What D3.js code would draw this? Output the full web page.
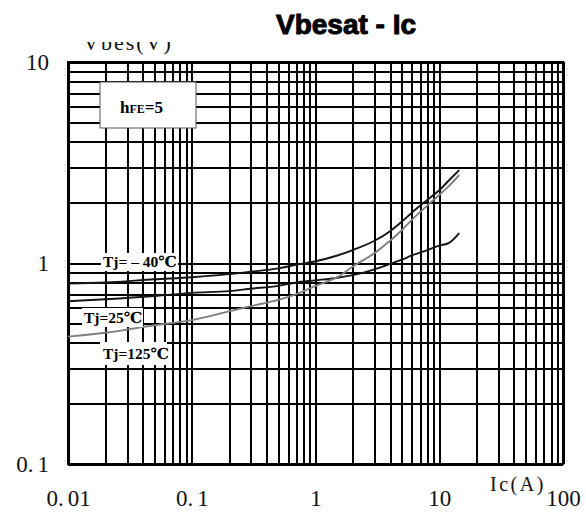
<!DOCTYPE html>
<html><head><meta charset="utf-8">
<script src="https://cdn.jsdelivr.net/npm/d3@7"></script>
<style>body{margin:0;background:#fff}</style>
</head><body>
<svg id="c" width="586" height="513"></svg>
<script>
// ---- data ----
const currents = [0.01,0.02,0.05,0.1,0.2,0.3,0.5,0.7,1,1.5,2,3,4,5,6,8,10,12,14.5];
const vTjM40  = [0.79,0.80,0.83,0.85,0.88,0.905,0.94,0.98,1.02,1.09,1.16,1.29,1.44,1.61,1.78,2.06,2.30,2.58,2.90];
const vTj25   = [0.645,0.66,0.685,0.71,0.725,0.745,0.77,0.80,0.82,0.845,0.87,0.93,0.99,1.04,1.09,1.16,1.22,1.26,1.41];
const vTj125  = [0.43,0.45,0.49,0.52,0.575,0.61,0.655,0.70,0.77,0.85,0.96,1.12,1.29,1.46,1.64,1.93,2.18,2.42,2.74];
const seriesNames = ["Tj= \u2013 40\u2103","Tj=25\u2103","Tj=125\u2103"];
const xTickValues = [0.01,0.1,1,10,100];
const xTickLabels = ["0.01","0.1","1","10","100"];
const yTickValues = [0.1,1,10];
const yTickLabels = ["0.1","1","10"];
const title = "Vbesat - Ic";
const yTitle = "Vbes(V)";
const xTitle = "Ic(A)";

// ---- layout ----
const L=68, R=563, T=62, B=464;
const svg = d3.select("#c");
const x = d3.scaleLog().domain([0.01,100]).range([L,R]);
const y = d3.scaleLog().domain([0.1,10]).range([B,T]);

const xGrid=[]; [0.01,0.1,1,10].forEach(d=>{for(let k=1;k<10;k++) xGrid.push(+(d*k).toPrecision(3));}); xGrid.push(100);
const yGrid=[]; [0.1,1].forEach(d=>{for(let k=1;k<10;k++) yGrid.push(+(d*k).toPrecision(3));}); yGrid.push(10);

const gx = svg.append("g").attr("transform",`translate(0,${B})`)
  .call(d3.axisBottom(x).tickValues(xGrid).tickSize(-(B-T)).tickFormat(""));
const gy = svg.append("g").attr("transform",`translate(${L},0)`)
  .call(d3.axisLeft(y).tickValues(yGrid).tickSize(-(R-L)).tickFormat(""));
[gx,gy].forEach(g=>{g.select(".domain").remove();
  g.selectAll("line").attr("stroke","#000").attr("stroke-width",2).attr("shape-rendering","crispEdges");});
svg.append("rect").attr("x",L).attr("y",T).attr("width",R-L).attr("height",B-T)
  .attr("fill","none").attr("stroke","#000").attr("stroke-width",2).attr("shape-rendering","crispEdges");

// ---- curves ----
const line = d3.line().x((d,i)=>x(currents[i])).y(d=>y(d)).curve(d3.curveMonotoneX);
[[vTjM40,"#151515"],[vTj25,"#151515"],[vTj125,"#7f7f7f"]].forEach(([v,c])=>{
  svg.append("path").attr("d",line(v)).attr("fill","none").attr("stroke",c).attr("stroke-width",1.9);
});

// ---- tick labels ----
const serif = "'Liberation Serif','DejaVu Serif',serif";
const ax = svg.append("g").attr("transform",`translate(0,${B})`)
  .call(d3.axisBottom(x).tickValues(xTickValues).tickSize(0).tickPadding(26).tickFormat((d,i)=>xTickLabels[i]));
const ay = svg.append("g").attr("transform",`translate(${L},0)`)
  .call(d3.axisLeft(y).tickValues(yTickValues).tickSize(0).tickPadding(19).tickFormat((d,i)=>yTickLabels[i]));
[ax,ay].forEach(g=>{g.select(".domain").remove();
  g.selectAll("text").attr("font-family",serif).attr("font-size",23).attr("fill","#111");});
[ax,ay].forEach(g=>g.selectAll("text").each(function(){
  const t=d3.select(this), s=t.text(), p=s.indexOf(".");
  if(p>=0){ t.text(null); t.append("tspan").text(s.slice(0,p+1)); t.append("tspan").attr("dx",4).text(s.slice(p+1)); }
}));

// ---- titles ----
svg.append("text").attr("x",346).attr("y",34).attr("text-anchor","middle")
  .attr("font-family","'Liberation Sans',Arial,sans-serif").attr("font-weight","bold").attr("font-size",28)
  .attr("stroke","#000").attr("stroke-width",1).text(title);
svg.append("clipPath").attr("id","vc").append("rect").attr("x",0).attr("y",42).attr("width",300).attr("height",30);
svg.append("text").attr("x",83).attr("y",50).attr("clip-path","url(#vc)")
  .attr("font-family",serif).attr("font-size",22).attr("letter-spacing",2).attr("fill","#111").text(yTitle);
svg.append("text").attr("x",490).attr("y",491)
  .attr("font-family",serif).attr("font-size",20).attr("letter-spacing",2.5).attr("fill","#111").text(xTitle);

// ---- hFE box ----
svg.append("rect").attr("x",100).attr("y",82).attr("width",96).attr("height",46)
  .attr("fill","#fff").attr("stroke","#555").attr("stroke-width",1);
const h = svg.append("text").attr("x",120).attr("y",113).attr("font-family",serif).attr("font-weight","bold").attr("font-size",17);
h.append("tspan").text("h"); h.append("tspan").attr("font-size",12).text("FE"); h.append("tspan").text("=5");

// ---- series labels ----
const labelBoxes = [[101,253,77,18,103,267],[82,308,61,19,84,323],[100,342,67,23,103,359]];
seriesNames.forEach((n,i)=>{
  const b=labelBoxes[i];
  svg.append("rect").attr("x",b[0]).attr("y",b[1]).attr("width",b[2]).attr("height",b[3]).attr("fill","#fff");
  svg.append("text").attr("x",b[4]).attr("y",b[5]).attr("font-family",serif).attr("font-weight","bold")
    .attr("font-size",15.5).attr("fill","#000").text(n);
});
</script>
</body></html>
